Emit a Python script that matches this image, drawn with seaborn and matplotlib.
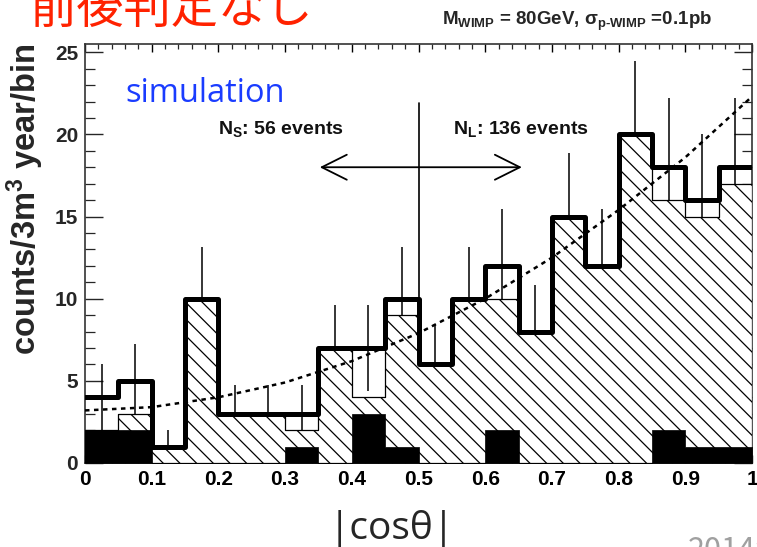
import numpy as np
import pandas as pd
import matplotlib
matplotlib.use("Agg")
import matplotlib.pyplot as plt
import seaborn as sns

# ---------------- data ----------------
bin_edges = [0.0, 0.05, 0.10, 0.15, 0.20, 0.25, 0.30, 0.35, 0.40, 0.45, 0.50,
             0.55, 0.60, 0.65, 0.70, 0.75, 0.80, 0.85, 0.90, 0.95, 1.0]
total_counts = [4, 5, 1, 10, 3, 3, 3, 7, 7, 10, 6, 10, 12, 8, 15, 12, 20, 18, 16, 18]
hatched_counts = [2, 3, 1, 10, 3, 3, 2, 7, 4, 9, 6, 10, 10, 8, 15, 12, 20, 16, 15, 17]
black_counts = [2, 2, 0, 0, 0, 0, 1, 0, 3, 1, 0, 0, 2, 0, 0, 0, 0, 2, 1, 1]
curve_x = [0.0, 0.1, 0.2, 0.3, 0.4, 0.5, 0.6, 0.7, 0.8, 0.9, 1.0]
curve_y = [3.2, 3.4, 4.0, 4.9, 6.2, 7.9, 10.0, 12.5, 15.4, 18.6, 22.3]
xtick_vals = [0, 0.1, 0.2, 0.3, 0.4, 0.5, 0.6, 0.7, 0.8, 0.9, 1.0]
xtick_labels = ["0", "0.1", "0.2", "0.3", "0.4", "0.5", "0.6", "0.7", "0.8", "0.9", "1"]
ytick_vals = [0, 5, 10, 15, 20, 25]
ytick_labels = ["0", "5", "10", "15", "20", "25"]

edges = np.array(bin_edges)
centers = (edges[:-1] + edges[1:]) / 2
df = pd.DataFrame({"cos": centers, "total": total_counts,
                   "hatched": hatched_counts, "black": black_counts})

# ---------------- style ----------------
sns.set_theme(style="white")
plt.rcParams["font.family"] = ["Liberation Sans", "Noto Sans CJK JP", "DejaVu Sans"]
plt.rcParams["mathtext.fontset"] = "custom"
plt.rcParams["mathtext.rm"] = "Liberation Sans:bold"
plt.rcParams["mathtext.it"] = "Liberation Sans:bold"
plt.rcParams["mathtext.bf"] = "Liberation Sans:bold"
plt.rcParams["hatch.linewidth"] = 0.9
plt.rcParams["hatch.color"] = "black"

fig = plt.figure(figsize=(7.57, 5.47), dpi=100)
ax = fig.add_axes([85 / 757, (547 - 463) / 547, (752 - 85) / 757, (463 - 44) / 547])

bins_list = list(bin_edges)

# Poisson error bars (hidden below the hatched fill, as in the reference)
ax.errorbar(df["cos"], df["total"], yerr=np.sqrt(df["total"]), fmt="none",
            ecolor="black", elinewidth=1.1, capsize=0, zorder=2)
# hatched component (step outline, white face)
sns.histplot(data=df, x="cos", weights="hatched", bins=bins_list, element="step",
             fill=True, color="white", edgecolor="black", linewidth=0.9,
             hatch="\\\\", alpha=1, ax=ax, zorder=3)
# black filled component
sns.histplot(data=df, x="cos", weights="black", bins=bins_list, element="step",
             fill=True, color="black", edgecolor="black", linewidth=0.5,
             alpha=1, ax=ax, zorder=4)
# dotted curve
sns.lineplot(x=curve_x, y=curve_y, ax=ax, color="black", linewidth=1.8,
             linestyle=(0, (1.8, 1.8)), zorder=5)
# thick total outline
sns.histplot(data=df, x="cos", weights="total", bins=bins_list, element="step",
             fill=False, color="black", linewidth=3.6, ax=ax, zorder=6)

# divider line and arrow
ax.plot([0.5, 0.5], [10, 21.9], color="black", lw=1.2, zorder=7)
ax.annotate("", xy=(0.352, 18), xytext=(0.655, 18),
            arrowprops=dict(arrowstyle="<->,head_length=0.9,head_width=0.45",
                            lw=1.3, color="black", mutation_scale=20,
                            shrinkA=0, shrinkB=0), zorder=7)
ax.text(0.2, 20.05, r"N$_{S}$: 56 events", fontsize=14, fontweight="bold",
        ha="left", va="baseline", color="#111111")
ax.text(0.552, 20.05, r"N$_{L}$: 136 events", fontsize=14, fontweight="bold",
        ha="left", va="baseline", color="#111111")
ax.text(0.06, 22.5, "simulation", fontsize=23.5, color="#1a3cff",
        family=["Open Sans", "DejaVu Sans"], ha="left", va="center")

# axes
ax.set_xlim(0, 1)
ax.set_ylim(0, 25.5)
ax.set_xticks(xtick_vals)
ax.set_xticklabels(xtick_labels, fontsize=15, fontweight="bold")
ax.set_yticks(ytick_vals)
ax.set_yticklabels(ytick_labels, fontsize=15, fontweight="bold")
ax.set_xticks(np.arange(0, 1.0001, 0.02), minor=True)
ax.set_yticks(np.arange(0, 25.5, 1), minor=True)
ax.tick_params(axis="x", which="major", direction="in", length=6, width=1,
               top=True, bottom=True, pad=5, colors="black")
ax.tick_params(axis="x", which="minor", direction="in", length=3.5, width=0.9,
               top=True, bottom=True)
ax.tick_params(axis="y", which="major", direction="in", length=13, width=1,
               left=True, right=True, pad=5)
ax.tick_params(axis="y", which="minor", direction="in", length=7, width=0.9,
               left=True, right=True)
for s in ax.spines.values():
    s.set_color("#333333")
    s.set_linewidth(1.2)
ax.set_xlabel("")
ax.set_ylabel(r"counts/3m$^{3}$ year/bin", fontsize=23.5, fontweight="bold",
              labelpad=6, loc="top")

# figure texts
fig.text(30 / 757, (547 - 23) / 547, "前後判定なし", color="#ff2200", fontsize=34,
         family=["Noto Sans CJK JP"], ha="left", va="baseline")
fig.text(577 / 757, (547 - 25) / 547,
         r"M$_{\mathrm{WIMP}}$ = 80GeV, σ$_{\mathrm{p\text{-}WIMP}}$ =0.1pb",
         fontsize=13.5, fontweight="bold", ha="center", va="baseline")
fig.text(392 / 757, (547 - 539) / 547, "|cosθ|", fontsize=28,
         family=["Open Sans", "DejaVu Sans"], ha="center", va="baseline")
fig.text(688 / 757, -0.022, "2014年", fontsize=22, color="#a0a0a0",
         family=["Noto Sans CJK JP"], ha="left", va="baseline")

fig.savefig("out.png", dpi=100)
